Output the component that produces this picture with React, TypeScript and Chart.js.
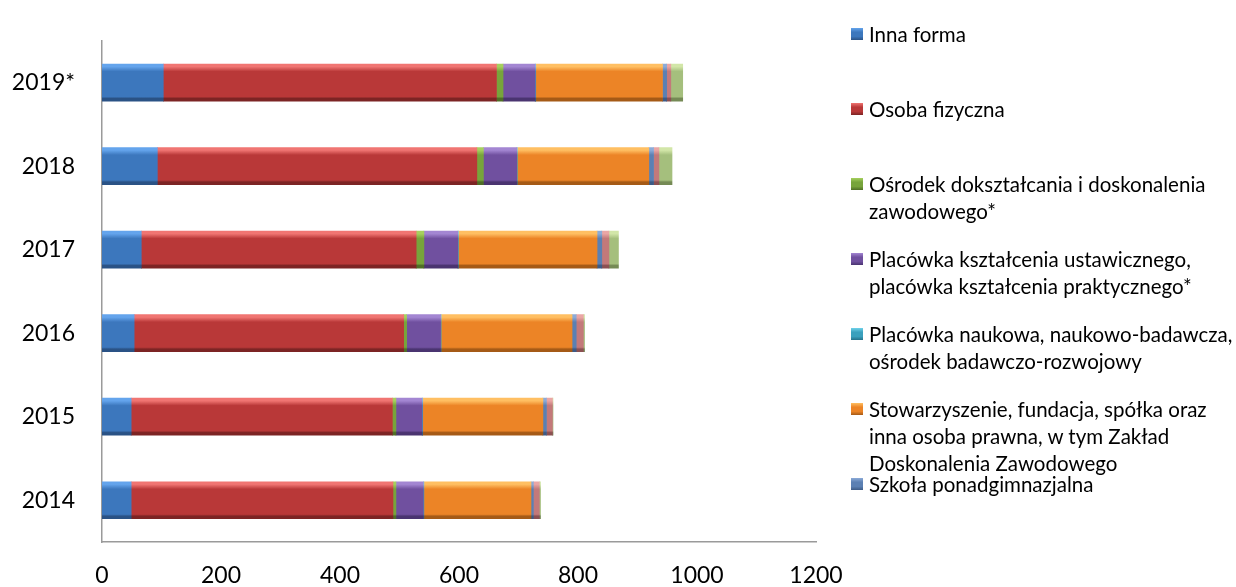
import React, { useEffect, useRef } from 'react';
import { Chart, registerables } from 'chart.js';

Chart.register(...registerables);

// ---- data ----
const years = ['2019*', '2018', '2017', '2016', '2015', '2014'];
const xMin = 0;
const xMax = 1200;
const xStep = 200;

const innaForma = [103, 93, 66, 54, 49, 49];
const osobaFizyczna = [560, 537, 462, 453, 439, 440];
const osrodekDoksztalcania = [11, 11, 13, 5, 6, 5];
const placowkaKsztalcenia = [54, 56, 57, 57, 44, 46];
const placowkaNaukowa = [1, 1, 1, 1, 1, 1];
const stowarzyszenie = [213, 221, 233, 220, 202, 180];
const szkolaPonadgimnazjalna = [7, 8, 8, 7, 6, 4];
const seria8 = [7, 9, 12, 12, 10, 10];
const seria9 = [20, 22, 16, 2, 1, 2];

const seriesLabels = [
  'Inna forma',
  'Osoba fizyczna',
  'Ośrodek dokształcania i doskonalenia zawodowego*',
  'Placówka kształcenia ustawicznego, placówka kształcenia praktycznego*',
  'Placówka naukowa, naukowo-badawcza, ośrodek badawczo-rozwojowy',
  'Stowarzyszenie, fundacja, spółka oraz inna osoba prawna, w tym Zakład Doskonalenia Zawodowego',
  'Szkoła ponadgimnazjalna',
  'Szkoła wyższa',
  'Zakład pracy',
];
const legendLines = [
  ['Inna forma'],
  ['Osoba fizyczna'],
  ['Ośrodek dokształcania i doskonalenia', 'zawodowego*'],
  ['Placówka kształcenia ustawicznego,', 'placówka kształcenia praktycznego*'],
  ['Placówka naukowa, naukowo-badawcza,', 'ośrodek badawczo-rozwojowy'],
  ['Stowarzyszenie, fundacja, spółka oraz', 'inna osoba prawna, w tym Zakład', 'Doskonalenia Zawodowego'],
  ['Szkoła ponadgimnazjalna'],
];
const seriesValues = [
  innaForma,
  osobaFizyczna,
  osrodekDoksztalcania,
  placowkaKsztalcenia,
  placowkaNaukowa,
  stowarzyszenie,
  szkolaPonadgimnazjalna,
  seria8,
  seria9,
];

// [light, base, dark]
const palette: [string, string, string][] = [
  ['#64a4ec', '#3c77bd', '#2a5285'],
  ['#f07572', '#b93838', '#7c2424'],
  ['#a6d05e', '#77a43b', '#4f6e26'],
  ['#a386d2', '#70509f', '#4a3470'],
  ['#70d2ea', '#3aa0bd', '#25718a'],
  ['#ffbf62', '#ec8426', '#a55a16'],
  ['#8cabd8', '#5b80b3', '#3d5b86'],
  ['#eaa6a5', '#c3797a', '#8c5052'],
  ['#d2e6a8', '#a5bf7d', '#758a55'],
];

const FONT = 'Lato, "Open Sans", sans-serif';
const BAR_THICKNESS = 37;

export default function App() {
  const canvasRef = useRef<HTMLCanvasElement | null>(null);

  useEffect(() => {
    if (!canvasRef.current) return;
    const makeBg = (si: number) => (ctx: any) => {
      const [light, base, dark] = palette[si];
      const chart = ctx.chart;
      const ys = chart.scales && chart.scales.y;
      if (ctx.type !== 'data' || !ys || !chart.chartArea) return base;
      const yc = ys.getPixelForValue(ctx.dataIndex);
      const top = yc - BAR_THICKNESS / 2;
      const g = chart.ctx.createLinearGradient(0, top, 0, top + BAR_THICKNESS);
      g.addColorStop(0, light);
      g.addColorStop(0.07, light);
      g.addColorStop(0.2, base);
      g.addColorStop(0.88, base);
      g.addColorStop(0.93, dark);
      g.addColorStop(1, dark);
      return g;
    };

    const chart = new Chart(canvasRef.current, {
      type: 'bar',
      data: {
        labels: years,
        datasets: seriesValues.map((vals, i) => ({
          label: seriesLabels[i],
          data: vals,
          backgroundColor: makeBg(i),
          borderWidth: 0,
          barThickness: BAR_THICKNESS,
        })),
      },
      options: {
        indexAxis: 'y',
        responsive: true,
        maintainAspectRatio: false,
        animation: false,
        layout: { padding: { top: 14, right: 420, left: 0, bottom: 0 } },
        plugins: {
          legend: { display: false },
          tooltip: { enabled: false },
          title: { display: false },
        },
        scales: {
          x: {
            stacked: true,
            min: xMin,
            max: xMax,
            ticks: {
              stepSize: xStep,
              color: '#000',
              font: { family: FONT, size: 23 },
              padding: 20,
              maxRotation: 0,
              callback: (v: any) => String(v),
            },
            grid: { display: false, drawTicks: false },
            border: { display: true, color: '#9a9a9a', width: 1.5 },
            afterFit: (s: any) => {
              s.height = 45;
            },
          },
          y: {
            stacked: true,
            ticks: {
              color: '#000',
              font: { family: FONT, size: 23 },
              padding: 27,
            },
            grid: { display: false, drawTicks: false },
            border: { display: true, color: '#9a9a9a', width: 1.5 },
            afterFit: (s: any) => {
              s.width = 102;
            },
          },
        },
      },
    });
    return () => chart.destroy();
  }, []);

  return (
    <div style={{ position: 'absolute', left: 0, top: 0, width: 1236, height: 587, background: '#fff' }}>
      <div style={{ position: 'absolute', left: 0, top: 0, width: 1236, height: 587 }}>
        <canvas ref={canvasRef} />
      </div>
      {legendLines.map((lines, i) => {
        const [light, base, dark] = palette[i];
        const centerY = 34 + 75 * i;
        return (
          <div
            key={i}
            style={{
              position: 'absolute',
              left: 851,
              top: centerY - 13.5,
              fontFamily: FONT,
              fontSize: 20.5,
              lineHeight: '27px',
              color: '#000',
              whiteSpace: 'nowrap',
            }}
          >
            <span
              style={{
                position: 'absolute',
                left: 0,
                top: 7.5,
                width: 12,
                height: 12,
                background: `linear-gradient(${light} 0%, ${base} 35%, ${base} 70%, ${dark} 100%)`,
              }}
            />
            <div style={{ marginLeft: 18 }}>
              {lines.map((l, j) => (
                <div key={j}>{l}</div>
              ))}
            </div>
          </div>
        );
      })}
    </div>
  );
}
